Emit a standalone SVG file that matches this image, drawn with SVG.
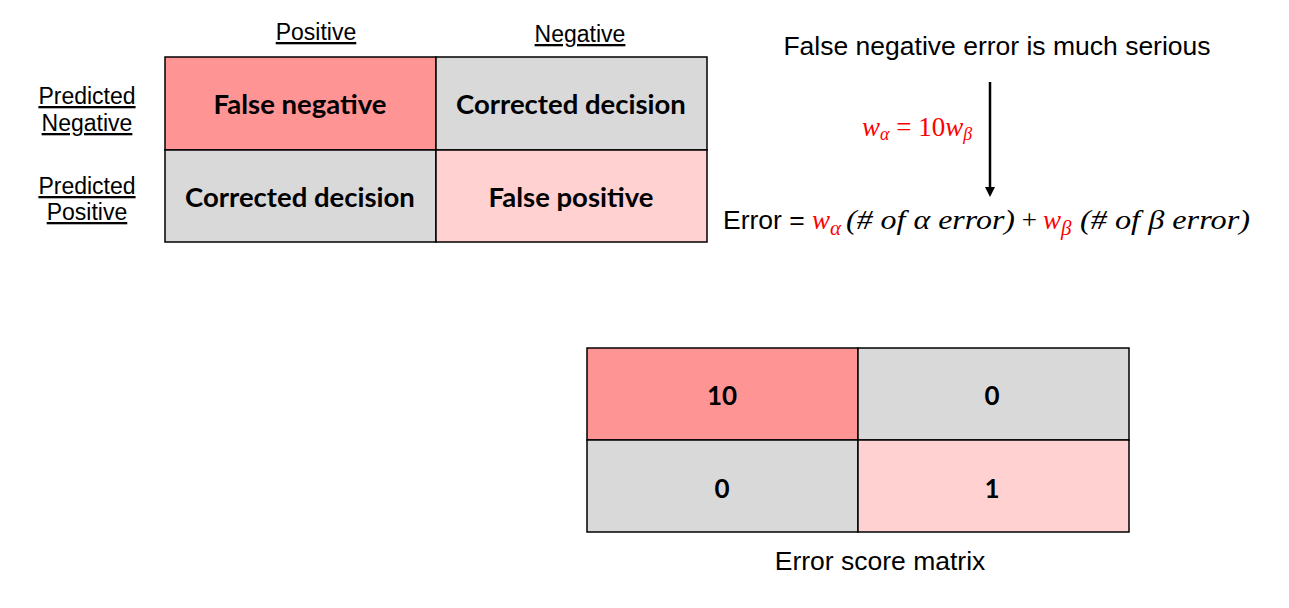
<svg xmlns="http://www.w3.org/2000/svg" width="1289" height="608" viewBox="0 0 1289 608">
<style>
.cell{stroke:#000;stroke-width:1.5}
.fn{fill:#FF9494}
.gr{fill:#D9D9D9}
.fp{fill:#FFD1D1}
.bold{font-family:Lato,"Liberation Sans",sans-serif;font-weight:bold;font-size:27.5px;fill:#000;text-anchor:middle}
.num{font-family:Lato,"Liberation Sans",sans-serif;font-weight:bold;font-size:26px;fill:#000;text-anchor:middle}
.lab{font-family:"Liberation Sans",Arial,sans-serif;font-size:23px;fill:#000;text-anchor:middle;text-decoration:underline}
.txt{font-family:"Liberation Sans",Arial,sans-serif;font-size:26.5px;fill:#000}
.math{font-family:"Liberation Serif","DejaVu Serif",serif;font-style:italic;font-size:27px;fill:#000}
.red{fill:#FF0000}
</style>
<defs>
<marker id="arr" markerWidth="10" markerHeight="12" refX="5" refY="5" orient="auto" markerUnits="userSpaceOnUse" viewBox="0 0 10 10">
<path d="M0,0 L10,5 L0,10 z" fill="#000"/>
</marker>
</defs>
<rect width="1289" height="608" fill="#fff"/>
<g id="header-labels">
<text class="lab" x="316" y="40">Positive</text>
<text class="lab" x="580" y="42">Negative</text>
<text class="lab" x="87" y="104">Predicted</text>
<text class="lab" x="87" y="131">Negative</text>
<text class="lab" x="87" y="194">Predicted</text>
<text class="lab" x="87" y="220">Positive</text>
</g>
<g id="confusion-matrix">
<g id="cell-fn"><rect class="cell fn" x="165" y="57" width="271" height="93"/><text class="bold" x="300" y="114">False negative</text></g>
<g id="cell-cd1"><rect class="cell gr" x="436" y="57" width="271" height="93"/><text class="bold" x="571" y="114">Corrected decision</text></g>
<g id="cell-cd2"><rect class="cell gr" x="165" y="150" width="271" height="92"/><text class="bold" x="300" y="207">Corrected decision</text></g>
<g id="cell-fp"><rect class="cell fp" x="436" y="150" width="271" height="92"/><text class="bold" x="571" y="207">False positive</text></g>
</g>
<g id="note">
<text class="txt" x="997" y="55" text-anchor="middle">False negative error is much serious</text>
</g>
<g id="weight-label">
<text class="math red" x="862" y="136" font-size="28">w<tspan font-size="18" dy="4">α</tspan><tspan dy="-4" font-style="normal"> = 10</tspan>w<tspan font-size="18" dy="4">β</tspan></text>
</g>
<g id="formula">
<text class="txt" x="723" y="229">Error =</text>
<text class="math red" x="812" y="229" font-size="32">w<tspan font-size="21" dy="6">α</tspan></text>
<text class="math" x="846" y="229" textLength="169" lengthAdjust="spacingAndGlyphs">(# of α error)</text>
<text class="math" x="1020" y="229" font-style="normal" font-size="30">+</text>
<text class="math red" x="1043" y="229" font-size="32">w<tspan font-size="21" dy="6">β</tspan></text>
<text class="math" x="1080" y="229" textLength="170" lengthAdjust="spacingAndGlyphs">(# of β error)</text>
</g>
<g id="connectors">
<line x1="990" y1="82" x2="990" y2="192" stroke="#000" stroke-width="2.5" marker-end="url(#arr)"/>
</g>
<g id="score-matrix">
<g id="s11"><rect class="cell fn" x="587" y="348" width="271" height="92"/><text class="num" x="722" y="405">10</text></g>
<g id="s12"><rect class="cell gr" x="858" y="348" width="271" height="92"/><text class="num" x="992" y="405">0</text></g>
<g id="s21"><rect class="cell gr" x="587" y="440" width="271" height="92"/><text class="num" x="722" y="498">0</text></g>
<g id="s22"><rect class="cell fp" x="858" y="440" width="271" height="92"/><text class="num" x="992" y="498">1</text></g>
<text class="txt" x="880" y="570" text-anchor="middle">Error score matrix</text>
</g>
</svg>
